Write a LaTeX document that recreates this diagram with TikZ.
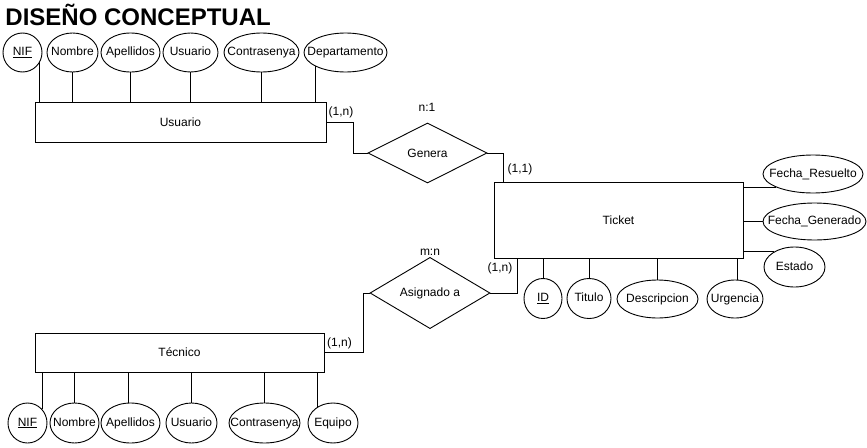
\documentclass[tikz,border=0pt]{standalone}
\usepackage{fontspec}
\setmainfont{Liberation Sans}
\usetikzlibrary{shapes.geometric}
\newcommand{\ctx}[1]{\makebox[0pt]{#1}}
\begin{document}
\begin{tikzpicture}[x=1pt,y=-1pt, font=\fontsize{12}{14}\selectfont, line width=0.9pt,
  attr/.style 2 args={ellipse, draw, fill=white, inner sep=0pt, minimum width=#1pt, minimum height=#2pt, text height=8.6pt, text depth=2.5pt},
  ent/.style 2 args={rectangle, draw, fill=white, inner sep=0pt, minimum width=#1pt, minimum height=#2pt},
  rel/.style={diamond, draw, fill=white, inner sep=0pt, minimum width=120pt, minimum height=60pt},
  card/.style={inner sep=0pt, text height=8.6pt, text depth=2.5pt}]
\useasboundingbox (0,0) rectangle (867,447);

\node[anchor=base west, font=\bfseries\fontsize{24}{28}\selectfont, inner sep=0pt] (title) at (5,25) {DISEÑO CONCEPTUAL};

% entities
\node[ent={291}{40}] (usuario) at (180.5,122) {Usuario};
\node[ent={249}{76}] (ticket) at (618.5,220) {Ticket};
\node[ent={289}{39}] (tecnico) at (179.5,352.5) {Técnico};

% relations
\node[rel, minimum width=119pt] (genera) at (427.5,153) {Genera};
\node[rel] (asig) at (430,293) {Asignado a};

% Usuario attributes
\node[attr={39}{39}] (uNIF) at (22.5,52.5) {\ctx{\underline{NIF}}};
\node[attr={51}{39}] (uNom) at (72.5,52.5) {\ctx{Nombre}};
\node[attr={59}{39}] (uApe) at (130.5,52.5) {\ctx{Apellidos}};
\node[attr={55}{39}] (uUsu) at (190.5,52.5) {\ctx{Usuario}};
\node[attr={75}{39}] (uCon) at (261.5,52.5) {\ctx{Contrasenya}};
\node[attr={83}{39}] (uDep) at (345.5,52.5) {\ctx{Departamento}};
\draw (uNIF.-29) -- (uNIF.-29 |- usuario.north);
\draw (uNom.south) -- (uNom.south |- usuario.north);
\draw (uApe.south) -- (uApe.south |- usuario.north);
\draw (uUsu.south) -- (uUsu.south |- usuario.north);
\draw (uCon.south) -- (uCon.south |- usuario.north);
\draw (uDep.-155) -- (uDep.-155 |- usuario.north);

% Ticket attributes
\node[attr={38}{40}] (tID) at (543,298.5) {\ctx{\underline{ID}}};
\node[attr={44}{40}] (tTit) at (589,298.5) {\ctx{Titulo}};
\node[attr={81}{38}] (tDes) at (657.5,299) {\ctx{Descripcion}};
\node[attr={56}{38}] (tUrg) at (735,299) {\ctx{Urgencia}};
\node[attr={100}{38}] (tFR) at (813,174) {\ctx{Fecha\_Resuelto}};
\node[attr={103}{37}] (tFG) at (814.5,221.5) {\ctx{Fecha\_Generado}};
\node[attr={61}{40}] (tEst) at (794.5,267) {\ctx{Estado}};
\draw (tID.north) -- (tID.north |- ticket.south);
\draw (tTit.north) -- (tTit.north |- ticket.south);
\draw (tDes.north) -- (tDes.north |- ticket.south);
\draw (tUrg.84) -- (tUrg.84 |- ticket.south);
\draw (tFR.200) -- (tFR.200 -| ticket.east);
\draw (tFG.west) -- (tFG.west -| ticket.east);
\draw (tEst.143) -- (tEst.143 -| ticket.east);

% Tecnico attributes
\node[attr={39}{40}] (cNIF) at (27.5,423) {\ctx{\underline{NIF}}};
\node[attr={49}{40}] (cNom) at (74.5,423) {\ctx{Nombre}};
\node[attr={59}{40}] (cApe) at (130.5,423) {\ctx{Apellidos}};
\node[attr={51}{40}] (cUsu) at (191.5,423) {\ctx{Usuario}};
\node[attr={71}{40}] (cCon) at (264.5,423) {\ctx{Contrasenya}};
\node[attr={50}{40}] (cEqu) at (333,423) {\ctx{Equipo}};
\draw (cNIF.43) -- (cNIF.43 |- tecnico.south);
\draw (cNom.north) -- (cNom.north |- tecnico.south);
\draw (cApe.95) -- (cApe.95 |- tecnico.south);
\draw (cUsu.north) -- (cUsu.north |- tecnico.south);
\draw (cCon.north) -- (cCon.north |- tecnico.south);
\draw (cEqu.133) -- (cEqu.133 |- tecnico.south);

% relationship connectors
\draw (usuario.east) -- ++(27,0) |- (genera.west);
\draw (genera.east) -| ([xshift=10pt]ticket.north west);
\draw ([xshift=24pt]ticket.south west) |- (asig.east);
\draw (asig.west) -- ++(-6,0) |- (tecnico.east);

% cardinalities
\node[card] (k1) at (341,112) {(1,n)};
\node[card] (k2) at (427,108) {n:1};
\node[card] (k3) at (520,169) {(1,1)};
\node[card] (k4) at (500,268) {(1,n)};
\node[card] (k5) at (430,252) {m:n};
\node[card] (k6) at (339.5,343) {(1,n)};
\end{tikzpicture}
\end{document}
